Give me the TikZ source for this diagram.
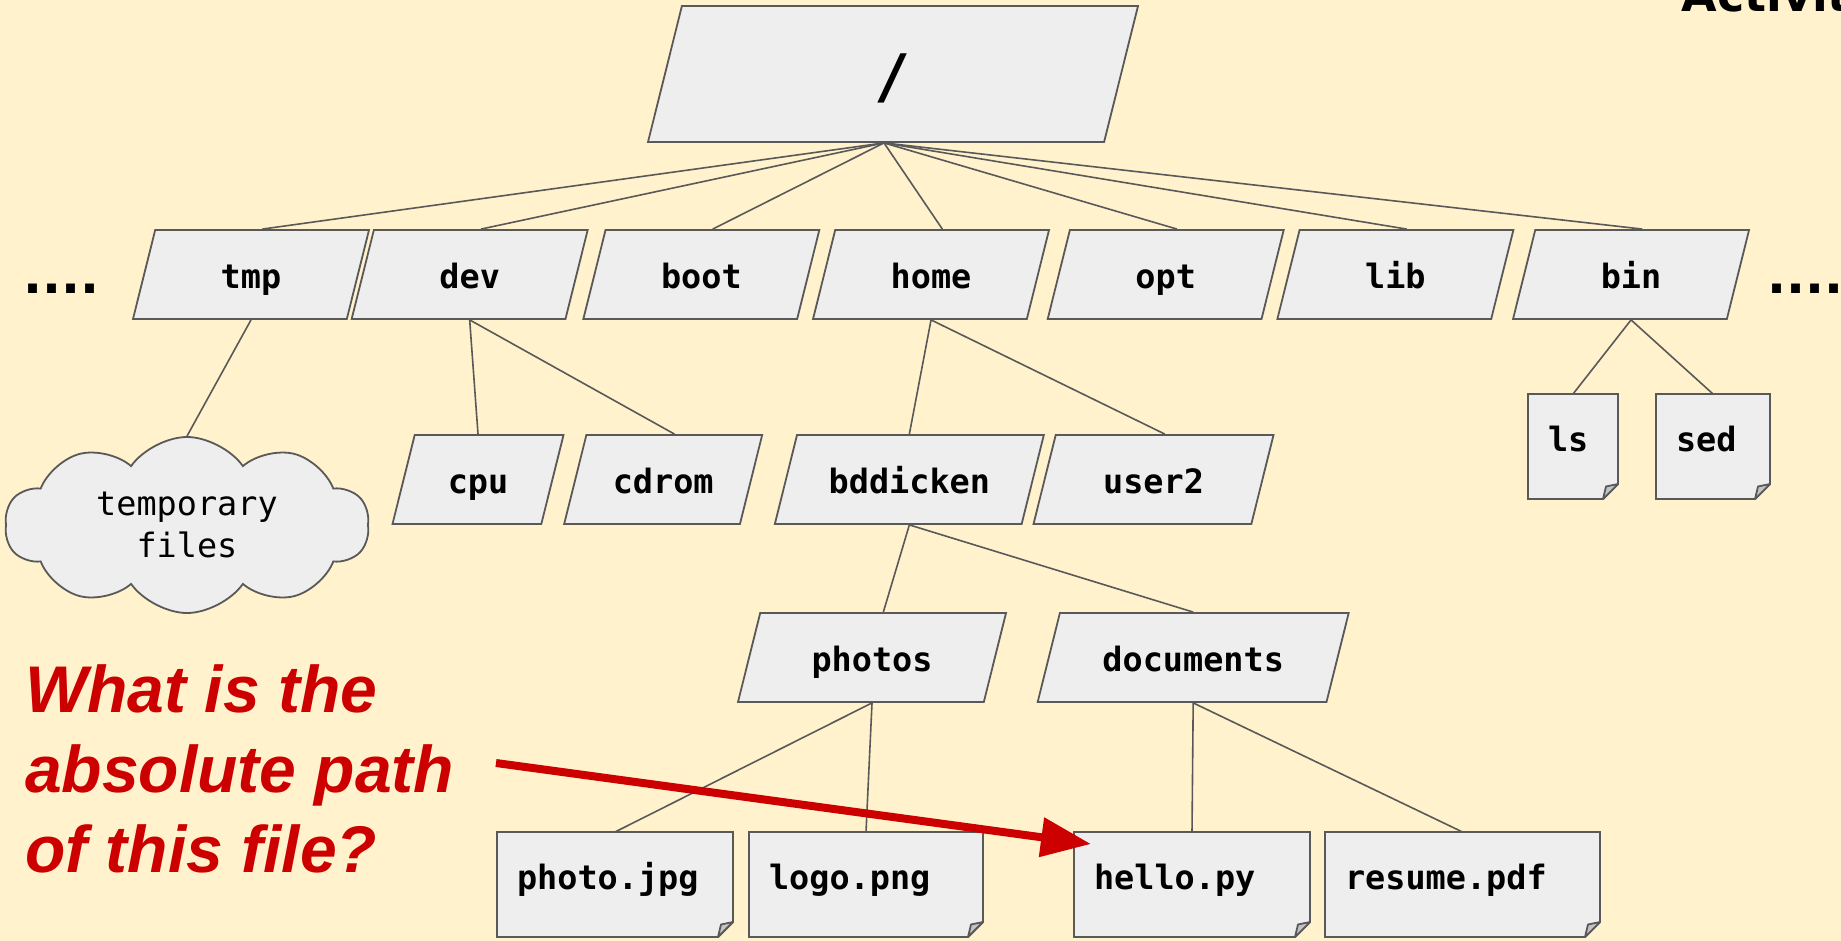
\documentclass[tikz,border=0pt]{standalone}
\usepackage{fontspec}
\setmainfont{Liberation Sans}
\setmonofont{DejaVu Sans Mono}
\newfontfamily\heavyfont{DejaVu Sans}
\usepackage{xcolor}
\usepackage{tikz}
\usetikzlibrary{shapes.geometric}
\usetikzlibrary{shapes.symbols}
\usetikzlibrary{arrows.meta}
\usetikzlibrary {positioning}
\definecolor{slidebg}{HTML}{FFF2CC}
\definecolor{boxgray}{HTML}{EEEEEE}
\definecolor{edgegray}{HTML}{595959}
\definecolor{foldgray}{HTML}{C4C4C4}
\definecolor{askred}{HTML}{CC0000}
\tikzset{dir node/.style={trapezium,trapezium left angle=76,trapezium right angle=104,trapezium stretches body,draw=edgegray,fill=boxgray,line width=1.8pt,minimum height=89pt,inner ysep=28pt,text height=30pt,text depth=3pt,font=\ttfamily\bfseries\fontsize{33.5pt}{40pt}\selectfont}}
\tikzset{file node/.style={rectangle,outer sep=0pt,minimum height=105pt,inner xsep=20pt,align=left,text height=20pt,text depth=11pt,font=\ttfamily\bfseries\fontsize{33.5pt}{40pt}\selectfont,
  append after command={\pgfextra{\begin{pgfinterruptpath}
    \filldraw[fill=boxgray,draw=edgegray,line width=1.8pt] (\tikzlastnode.north west) -- (\tikzlastnode.north east) -- ([yshift=15pt]\tikzlastnode.south east) -- ([xshift=-15pt]\tikzlastnode.south east) -- (\tikzlastnode.south west) -- cycle;
    \filldraw[fill=foldgray,draw=edgegray,line width=1.8pt,line join=round] ([yshift=15pt]\tikzlastnode.south east) -- ([xshift=-12pt,yshift=12.5pt]\tikzlastnode.south east) -- ([xshift=-15pt]\tikzlastnode.south east) -- cycle;
  \end{pgfinterruptpath}}}}}
\tikzset{tree line/.style={draw=edgegray,line width=1.6pt}}

\begin{document}
\begin{tikzpicture}[x=1pt,y=-1pt]
    \useasboundingbox (0,0) rectangle (1841,941);
    \fill[slidebg] (0,0) rectangle (1841,941);

    \node[anchor=base west,font=\heavyfont\bfseries\fontsize{46pt}{50pt}\selectfont] (title) at (1678,12) {Activity};

    \node[dir node,minimum width=490pt,minimum height=136pt,inner ysep=42pt,text height=50pt,text depth=2pt,font=\ttfamily\bfseries\fontsize{60pt}{60pt}\selectfont] (root) at (893,74) {/};

    \node[dir node,minimum width=236pt] (tmp) at (251,274.5) {tmp};
    \node[dir node,minimum width=236pt] (dev) [right = 3pt of tmp] {dev};
    \node[dir node,minimum width=236pt] (boot) [right = 16pt of dev] {boot};
    \node[dir node,minimum width=236pt] (home) [right = 14pt of boot] {home};
    \node[dir node,minimum width=236pt] (opt) [right = 19pt of home] {opt};
    \node[dir node,minimum width=236pt] (lib) [right = 14pt of opt] {lib};
    \node[dir node,minimum width=236pt] (bin) [right = 20pt of lib] {bin};

    \node[anchor=base,font=\heavyfont\bfseries\fontsize{50pt}{50pt}\selectfont] (moreleft) at (61,294) {....};
    \node[anchor=base,font=\heavyfont\bfseries\fontsize{50pt}{50pt}\selectfont] (moreright) at (1805,294) {....};

    \node[cloud,cloud puffs=10,cloud puff arc=110,aspect=2.1,draw=edgegray,fill=boxgray,line width=1.8pt,minimum width=364pt,minimum height=176pt,align=center,font=\ttfamily\fontsize{33.5pt}{42pt}\selectfont] (tmpfiles) at (187,525) {temporary\\files};

    \node[dir node,minimum width=171pt] (cpu) at (478,479.5) {cpu};
    \node[dir node,minimum width=198pt] (cdrom) [right = 21pt of cpu] {cdrom};
    \node[dir node,minimum width=269pt] (bddicken) [right = 33pt of cdrom] {bddicken};
    \node[dir node,minimum width=240pt] (user2) [right = 10pt of bddicken] {user2};

    \node[dir node,minimum width=268pt] (photos) at (872,657.5) {photos};
    \node[dir node,minimum width=311pt] (documents) [right = 52pt of photos] {documents};

    \node[file node,text width=50pt] (ls) at (1573,446.5) {ls};
    \node[file node,text width=74pt] (sed) [right = 38pt of ls] {sed};

    \node[file node,text width=196pt] (photojpg) at (615,884.5) {photo.jpg};
    \node[file node,text width=194pt] (logopng) [right = 16pt of photojpg] {logo.png};
    \node[file node,text width=196pt] (hellopy) at (1192,884.5) {hello.py};
    \node[file node,text width=235pt] (resumepdf) [right = 15pt of hellopy] {resume.pdf};

    \path [tree line]
    ([xshift=-9pt]root.south) edge (tmp.top side)
    ([xshift=-9pt]root.south) edge (dev.top side)
    ([xshift=-9pt]root.south) edge (boot.top side)
    ([xshift=-9pt]root.south) edge (home.top side)
    ([xshift=-9pt]root.south) edge (opt.top side)
    ([xshift=-9pt]root.south) edge (lib.top side)
    ([xshift=-9pt]root.south) edge (bin.top side)
    (tmp.south) edge (tmpfiles.north)
    (dev.south) edge (cpu.north)
    (dev.south) edge (cdrom.top side)
    (home.south) edge (bddicken.north)
    (home.south) edge (user2.top side)
    (bin.south) edge (ls.north)
    (bin.south) edge (sed.north)
    (bddicken.south) edge (photos.top side)
    (bddicken.south) edge (documents.north)
    (photos.south) edge (photojpg.north)
    (photos.south) edge (logopng.north)
    (documents.south) edge (hellopy.north)
    (documents.south) edge (resumepdf.north);

    \node[anchor=base west,inner sep=0pt,align=left,text=askred,font=\bfseries\itshape\fontsize{66pt}{80pt}\selectfont] (question) at (25,872) {What is the\\absolute path\\of this file?};

    \coordinate (arrowstart) at (496,763);
    \draw[askred,line width=8pt,-{Triangle[length=50pt,width=38pt]}] (arrowstart) -- ([xshift=17pt,yshift=-12pt]hellopy.north west);
\end{tikzpicture}
\end{document}
